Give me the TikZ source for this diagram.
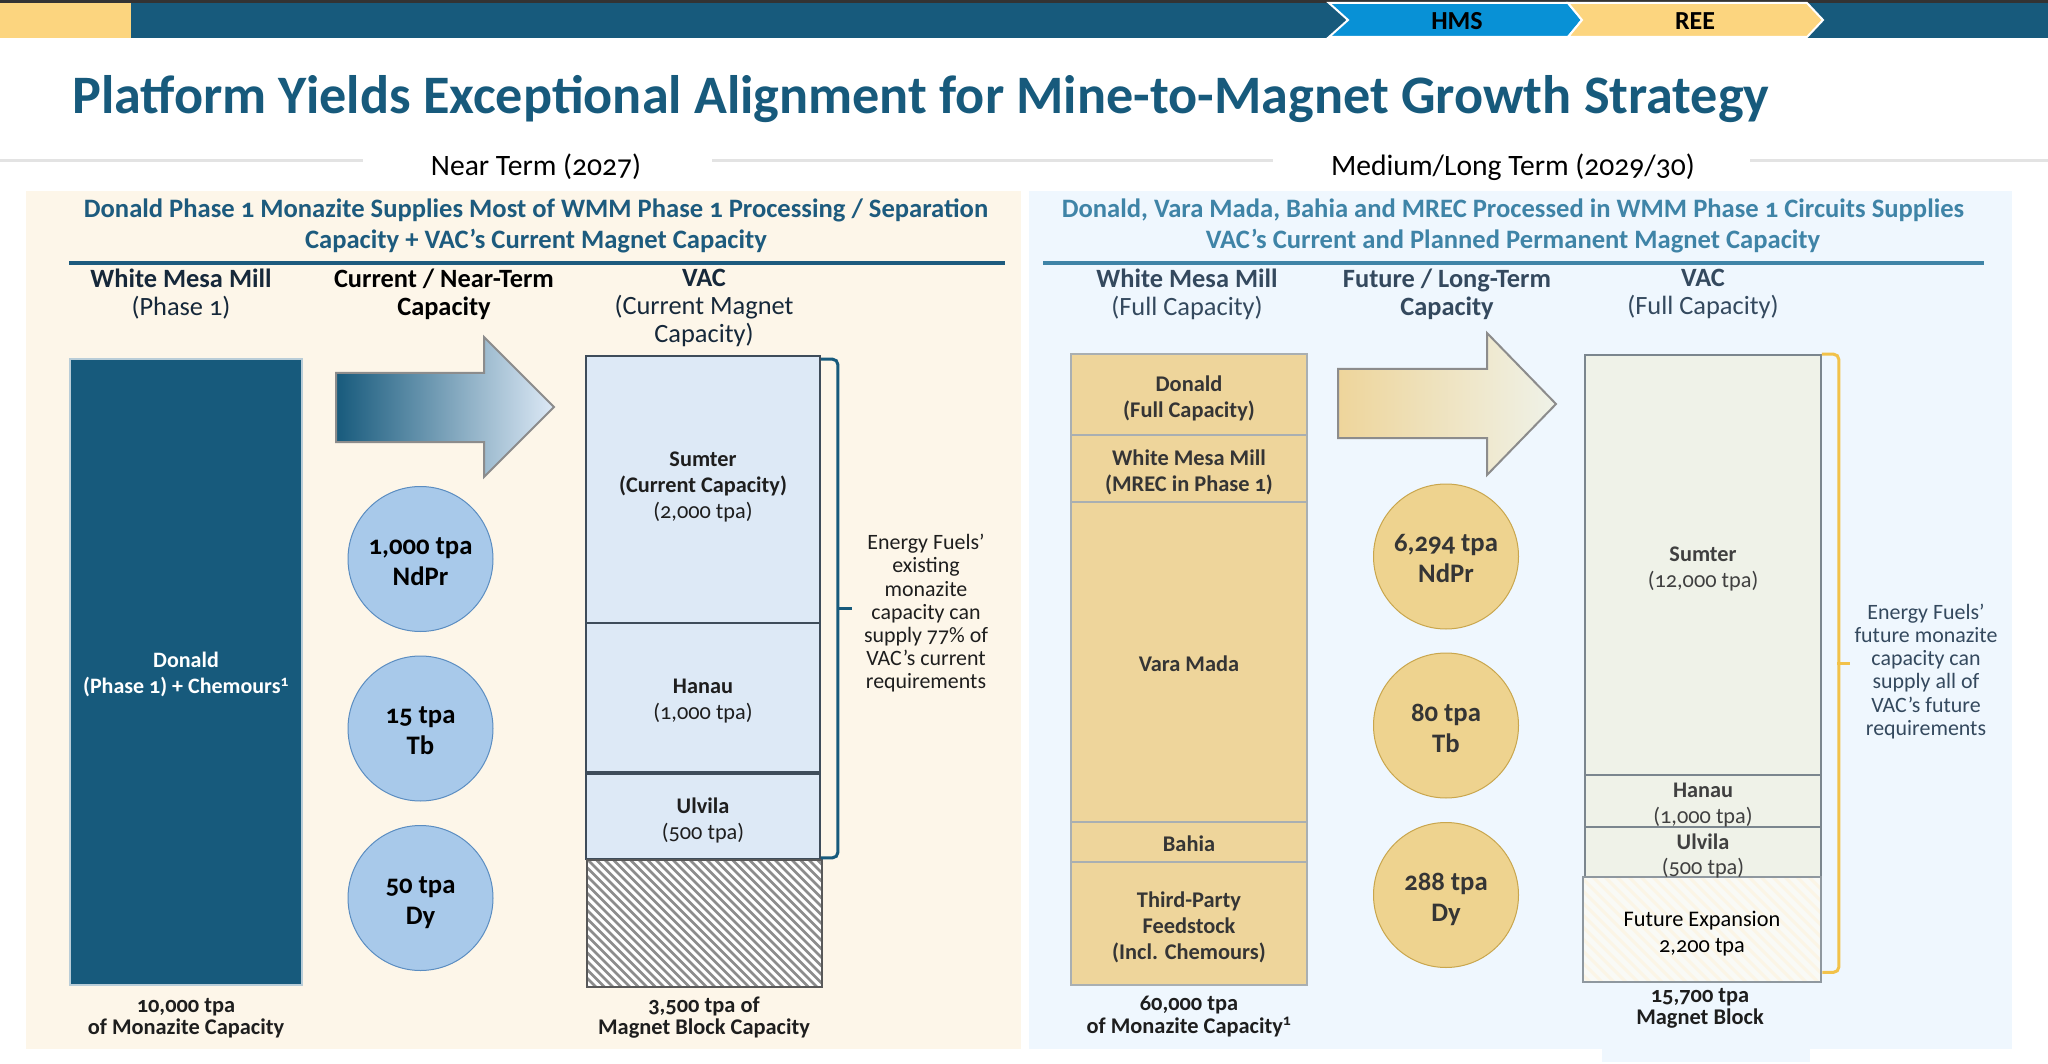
\documentclass[tikz,border=0pt]{standalone}
\usepackage{fontspec}
\setmainfont{Carlito}[Numbers=OldStyle]
\definecolor{navy}{HTML}{175A7C}
\definecolor{gold}{HTML}{FCD57F}
\definecolor{hmsblue}{HTML}{0891D6}
\definecolor{rulegrey}{HTML}{E3E3E3}
\definecolor{beige}{HTML}{FDF6E9}
\definecolor{skyb}{HTML}{EFF7FE}
\definecolor{headl}{HTML}{1D5B7E}
\definecolor{headr}{HTML}{3F84A7}
\definecolor{slate}{HTML}{34495E}
\definecolor{ink}{HTML}{1E1E1E}
\definecolor{darkink}{HTML}{16283A}
\definecolor{vacblue}{HTML}{DDE9F6}
\definecolor{vacedge}{HTML}{3E4C5A}
\definecolor{tan}{HTML}{EED59B}
\definecolor{tanedge}{HTML}{A9AFB2}
\definecolor{pale}{HTML}{EFF2E8}
\definecolor{paleedge}{HTML}{7B868E}
\definecolor{bluedot}{HTML}{A8C9EA}
\definecolor{bluedotedge}{HTML}{5B8DC1}
\definecolor{golddot}{HTML}{EED38F}
\definecolor{golddotedge}{HTML}{C9A64D}
\definecolor{braceyel}{HTML}{F2C24A}
\definecolor{arrowedge}{HTML}{8C8C8C}
\begin{document}
\begin{tikzpicture}[x=1pt, y=-1pt,
    txt/.style={inner sep=0pt, align=center, execute at begin node=\strut, execute at end node=\strut},
    colhead/.style={txt, font=\fontsize{26.4}{28}\selectfont},
    boxlabel/.style={txt, font=\fontsize{22.3}{26}\selectfont, text=ink, yshift=-6pt},
    tanlabel/.style={boxlabel, font=\fontsize{22.4}{26}\selectfont\bfseries, text=ink!90},
    vacL/.style={draw=vacedge, line width=1.5pt, fill=vacblue, minimum width=234pt, inner sep=0pt},
    tanbox/.style={draw=tanedge, line width=1.5pt, fill=tan, minimum width=236pt, inner sep=0pt},
    vacR/.style={draw=paleedge, line width=1.5pt, fill=pale, minimum width=236pt, inner sep=0pt},
    dotL/.style={circle, minimum size=145pt, inner sep=0pt, fill=bluedot, draw=bluedotedge, line width=1pt},
    dotR/.style={dotL, fill=golddot, draw=golddotedge},
    dotlabel/.style={txt, font=\fontsize{26.7}{31}\selectfont\bfseries, yshift=-7pt},
    notetext/.style={txt, font=\fontsize{21.9}{23.2}\selectfont},
    foottext/.style={txt, font=\fontsize{22.4}{22.5}\selectfont\bfseries, text=ink},
    brace/.style={line width=3pt, rounded corners=5pt}]
  \useasboundingbox (0,0) rectangle (2048,1064);
  \fill[white] (0,0) rectangle (2048,1064);
  % top band
  \fill[black!80] (0,0) rectangle (2048,3);
  \fill[navy] (0,3) rectangle (2048,38);
  \fill[gold] (0,3) rectangle (131,38);
  \draw[white, line width=2pt, fill=hmsblue] (1329,3) -- (1568,3) -- (1582,20) -- (1568,37) -- (1329,37) -- (1348,20) -- cycle;
  \draw[white, line width=2pt, fill=gold] (1568,3) -- (1807,3) -- (1823,20) -- (1807,37) -- (1568,37) -- (1582,20) -- cycle;
  \node[font=\fontsize{26}{30}\selectfont\bfseries] at (1457,21) (hms) {HMS};
  \node[font=\fontsize{26}{30}\selectfont\bfseries] at (1695,21) (ree) {REE};
  % title
  \node[anchor=base west, inner sep=0pt, font=\fontsize{54.2}{60}\selectfont\bfseries, text=navy] at (72,114) (title) {Platform Yields Exceptional Alignment for Mine-to-Magnet Growth Strategy};
  % section rules
  \draw[rulegrey, line width=3pt] (0,161) -- (363,161);
  \draw[rulegrey, line width=3pt] (712,161) -- (1273,161);
  \draw[rulegrey, line width=3pt] (1750,161) -- (2048,161);
  \node[anchor=base, font=\fontsize{29.6}{32}\selectfont] at (536,176) (nearterm) {Near Term (2027)};
  \node[anchor=base, font=\fontsize{29.6}{32}\selectfont] at (1513,176) (longterm) {Medium/Long Term (2029/30)};
  % panels
  \fill[beige] (26,191) rectangle (1021,1049);
  \fill[skyb] (1029,191) rectangle (2012,1049);
  \fill[skyb] (1602,1049) rectangle (1810,1062);
  \node[txt, font=\fontsize{26.6}{31}\selectfont\bfseries, text=headl] at (536,228) (headL) {Donald Phase 1 Monazite Supplies Most of WMM Phase 1 Processing / Separation\\Capacity + VAC’s Current Magnet Capacity};
  \node[txt, font=\fontsize{26.6}{31}\selectfont\bfseries, text=headr] at (1513,228) (headR) {Donald, Vara Mada, Bahia and MREC Processed in WMM Phase 1 Circuits Supplies\\VAC’s Current and Planned Permanent Magnet Capacity};
  \draw[headl, line width=3.5pt] (69,263) -- (1005,263);
  \draw[headr, line width=3.5pt] (1043,263) -- (1984,263);
  % column headers
  \node[colhead, text=darkink] at (181,296.4) (whiteL) {\textbf{White Mesa Mill}\\(Phase 1)};
  \node[colhead, text=black] at (444,296.4) (nearcap) {\textbf{Current / Near-Term}\\\textbf{Capacity}};
  \node[colhead, text=darkink] at (704,310.4) (vacheadL) {\textbf{VAC}\\(Current Magnet\\Capacity)};
  \node[colhead, text=slate] at (1187,296.4) (whiteR) {\textbf{White Mesa Mill}\\(Full Capacity)};
  \node[colhead, text=slate] at (1447,296.4) (futcap) {\textbf{Future / Long-Term}\\\textbf{Capacity}};
  \node[colhead, text=slate] at (1703,296.4) (vacheadR) {\textbf{VAC}\\(Full Capacity)};
  % near term
  \node[draw=white!70!navy, line width=1.5pt, fill=navy, minimum width=232pt, minimum height=626pt, inner sep=0pt] at (186,672) (donaldbar) {};
  \node[boxlabel, yshift=1pt, text=white, font=\fontsize{22}{26}\selectfont\bfseries] at (donaldbar) (donaldbartxt) {Donald\\(Phase 1) + Chemours\textsuperscript{1}};
  \path[draw=arrowedge, line width=2pt, left color=navy, middle color=navy!30!white!85!gray, right color=vacblue] (336,373) -- (484,373) -- (484,337) -- (554,407) -- (484,477) -- (484,442) -- (336,442) -- cycle;
  \node[dotL] at (420.5,559) (ndprL) {};
  \node[dotL] at (420.5,728.5) (tbL) {};
  \node[dotL] at (420.5,898) (dyL) {};
  \node[dotlabel, text=black] at (ndprL) (ndprLtxt) {1,000 tpa\\NdPr};
  \node[dotlabel, text=black] at (tbL) (tbLtxt) {15 tpa\\Tb};
  \node[dotlabel, text=black] at (dyL) (dyLtxt) {50 tpa\\Dy};
  \node[vacL, minimum height=267pt] at (703,489.5) (sumterL) {};
  \node[vacL, minimum height=149pt] at (703,697.5) (hanauL) {};
  \node[vacL, minimum height=85pt] at (703,816.5) (ulvilaL) {};
  \node[boxlabel, yshift=6pt] at (sumterL) (sumterLtxt) {\textbf{Sumter}\\\textbf{(Current Capacity)}\\(2,000 tpa)};
  \node[boxlabel] at (hanauL) (hanauLtxt) {\textbf{Hanau}\\(1,000 tpa)};
  \node[boxlabel] at (ulvilaL) (ulvilaLtxt) {\textbf{Ulvila}\\(500 tpa)};
  \node[draw=black!65, line width=1.5pt, fill=white, minimum width=235pt, minimum height=127pt,
    path picture={\foreach \k in {-135,-126.5,...,240}
      \draw[gray!90, line width=2.6pt] ([xshift=\k pt]path picture bounding box.north west) -- ++(135pt,-135pt);}]
    at (704.5,923.5) (hatchL) {};
  \draw[brace, navy] ([yshift=-4pt]sumterL.north east) -- ++(17,0) |- ([yshift=2pt]ulvilaL.south east);
  \draw[navy, line width=3pt] (837,608) -- ++(15,0);
  \node[notetext, text=ink] at (926,615) (noteL) {Energy Fuels’\\existing\\monazite\\capacity can\\supply 77\% of\\VAC’s current\\requirements};
  \node[foottext] at (186,1019.6) (monL) {10,000 tpa\\of Monazite Capacity};
  \node[foottext] at (704,1019) (magL) {3,500 tpa of\\Magnet Block Capacity};
  % medium / long term
  \node[tanbox, minimum height=81pt] at (1189,394.5) (donaldR) {};
  \node[tanbox, minimum height=67pt] at (1189,468.5) (wmmR) {};
  \node[tanbox, minimum height=320pt] at (1189,662) (varaR) {};
  \node[tanbox, minimum height=40pt] at (1189,842) (bahiaR) {};
  \node[tanbox, minimum height=123pt] at (1189,923.5) (thirdR) {};
  \node[tanlabel] at (donaldR) (donaldRtxt) {Donald\\(Full Capacity)};
  \node[tanlabel] at (wmmR) (wmmRtxt) {White Mesa Mill\\(MREC in Phase 1)};
  \node[tanlabel, yshift=2pt] at (varaR) (varaRtxt) {Vara Mada};
  \node[tanlabel, yshift=2pt] at (bahiaR) (bahiaRtxt) {Bahia};
  \node[tanlabel] at (thirdR) (thirdRtxt) {Third-Party\\Feedstock\\(Incl. Chemours)};
  \path[draw=arrowedge, line width=2pt, left color=tan, middle color=tan!45!white, right color=pale] (1338,369) -- (1487,369) -- (1487,333) -- (1556,404) -- (1487,475) -- (1487,438) -- (1338,438) -- cycle;
  \node[dotR] at (1446,556.5) (ndprR) {};
  \node[dotR] at (1446,725.5) (tbR) {};
  \node[dotR] at (1446,895) (dyR) {};
  \node[dotlabel, text=ink!90] at (ndprR) (ndprRtxt) {6,294 tpa\\NdPr};
  \node[dotlabel, text=ink!90] at (tbR) (tbRtxt) {80 tpa\\Tb};
  \node[dotlabel, text=ink!90] at (dyR) (dyRtxt) {288 tpa\\Dy};
  \node[vacR, minimum height=420pt] at (1703,565) (sumterR) {};
  \node[vacR, minimum height=52pt] at (1703,801) (hanauR) {};
  \node[vacR, minimum height=50pt] at (1703,852) (ulvilaR) {};
  \node[draw=paleedge!85, line width=2.5pt, fill=white!60!pale, minimum width=238pt, minimum height=105pt,
    path picture={\foreach \k in {-110,-98,...,250}
      \draw[tan!25, line width=3pt] ([xshift=\k pt]path picture bounding box.north west) -- ++(115pt,-115pt);}]
    at (1702,929.5) (futureR) {};
  \node[boxlabel, text=ink!85] at (sumterR) (sumterRtxt) {\textbf{Sumter}\\(12,000 tpa)};
  \node[boxlabel, text=ink!85] at (hanauR) (hanauRtxt) {\textbf{Hanau}\\(1,000 tpa)};
  \node[boxlabel, text=ink!85, font=\fontsize{22.3}{25}\selectfont] at (ulvilaR) (ulvilaRtxt) {\textbf{Ulvila}\\(500 tpa)};
  \node[boxlabel, text=black] at (futureR) (futureRtxt) {Future Expansion\\2,200 tpa};
  \draw[brace, braceyel] (sumterR.north east) -- ++(17,0) |- ([yshift=11pt]futureR.south east);
  \draw[braceyel, line width=3pt] (1837,663) -- ++(13,0);
  \node[notetext, text=slate] at (1926,673) (noteR) {Energy Fuels’\\future monazite\\capacity can\\supply all of\\VAC’s future\\requirements};
  \node[foottext] at (1189,1018.4) (monR) {60,000 tpa\\of Monazite Capacity\textsuperscript{1}};
  \node[foottext] at (1700,1010) (magR) {15,700 tpa\\Magnet Block};
\end{tikzpicture}
\end{document}
